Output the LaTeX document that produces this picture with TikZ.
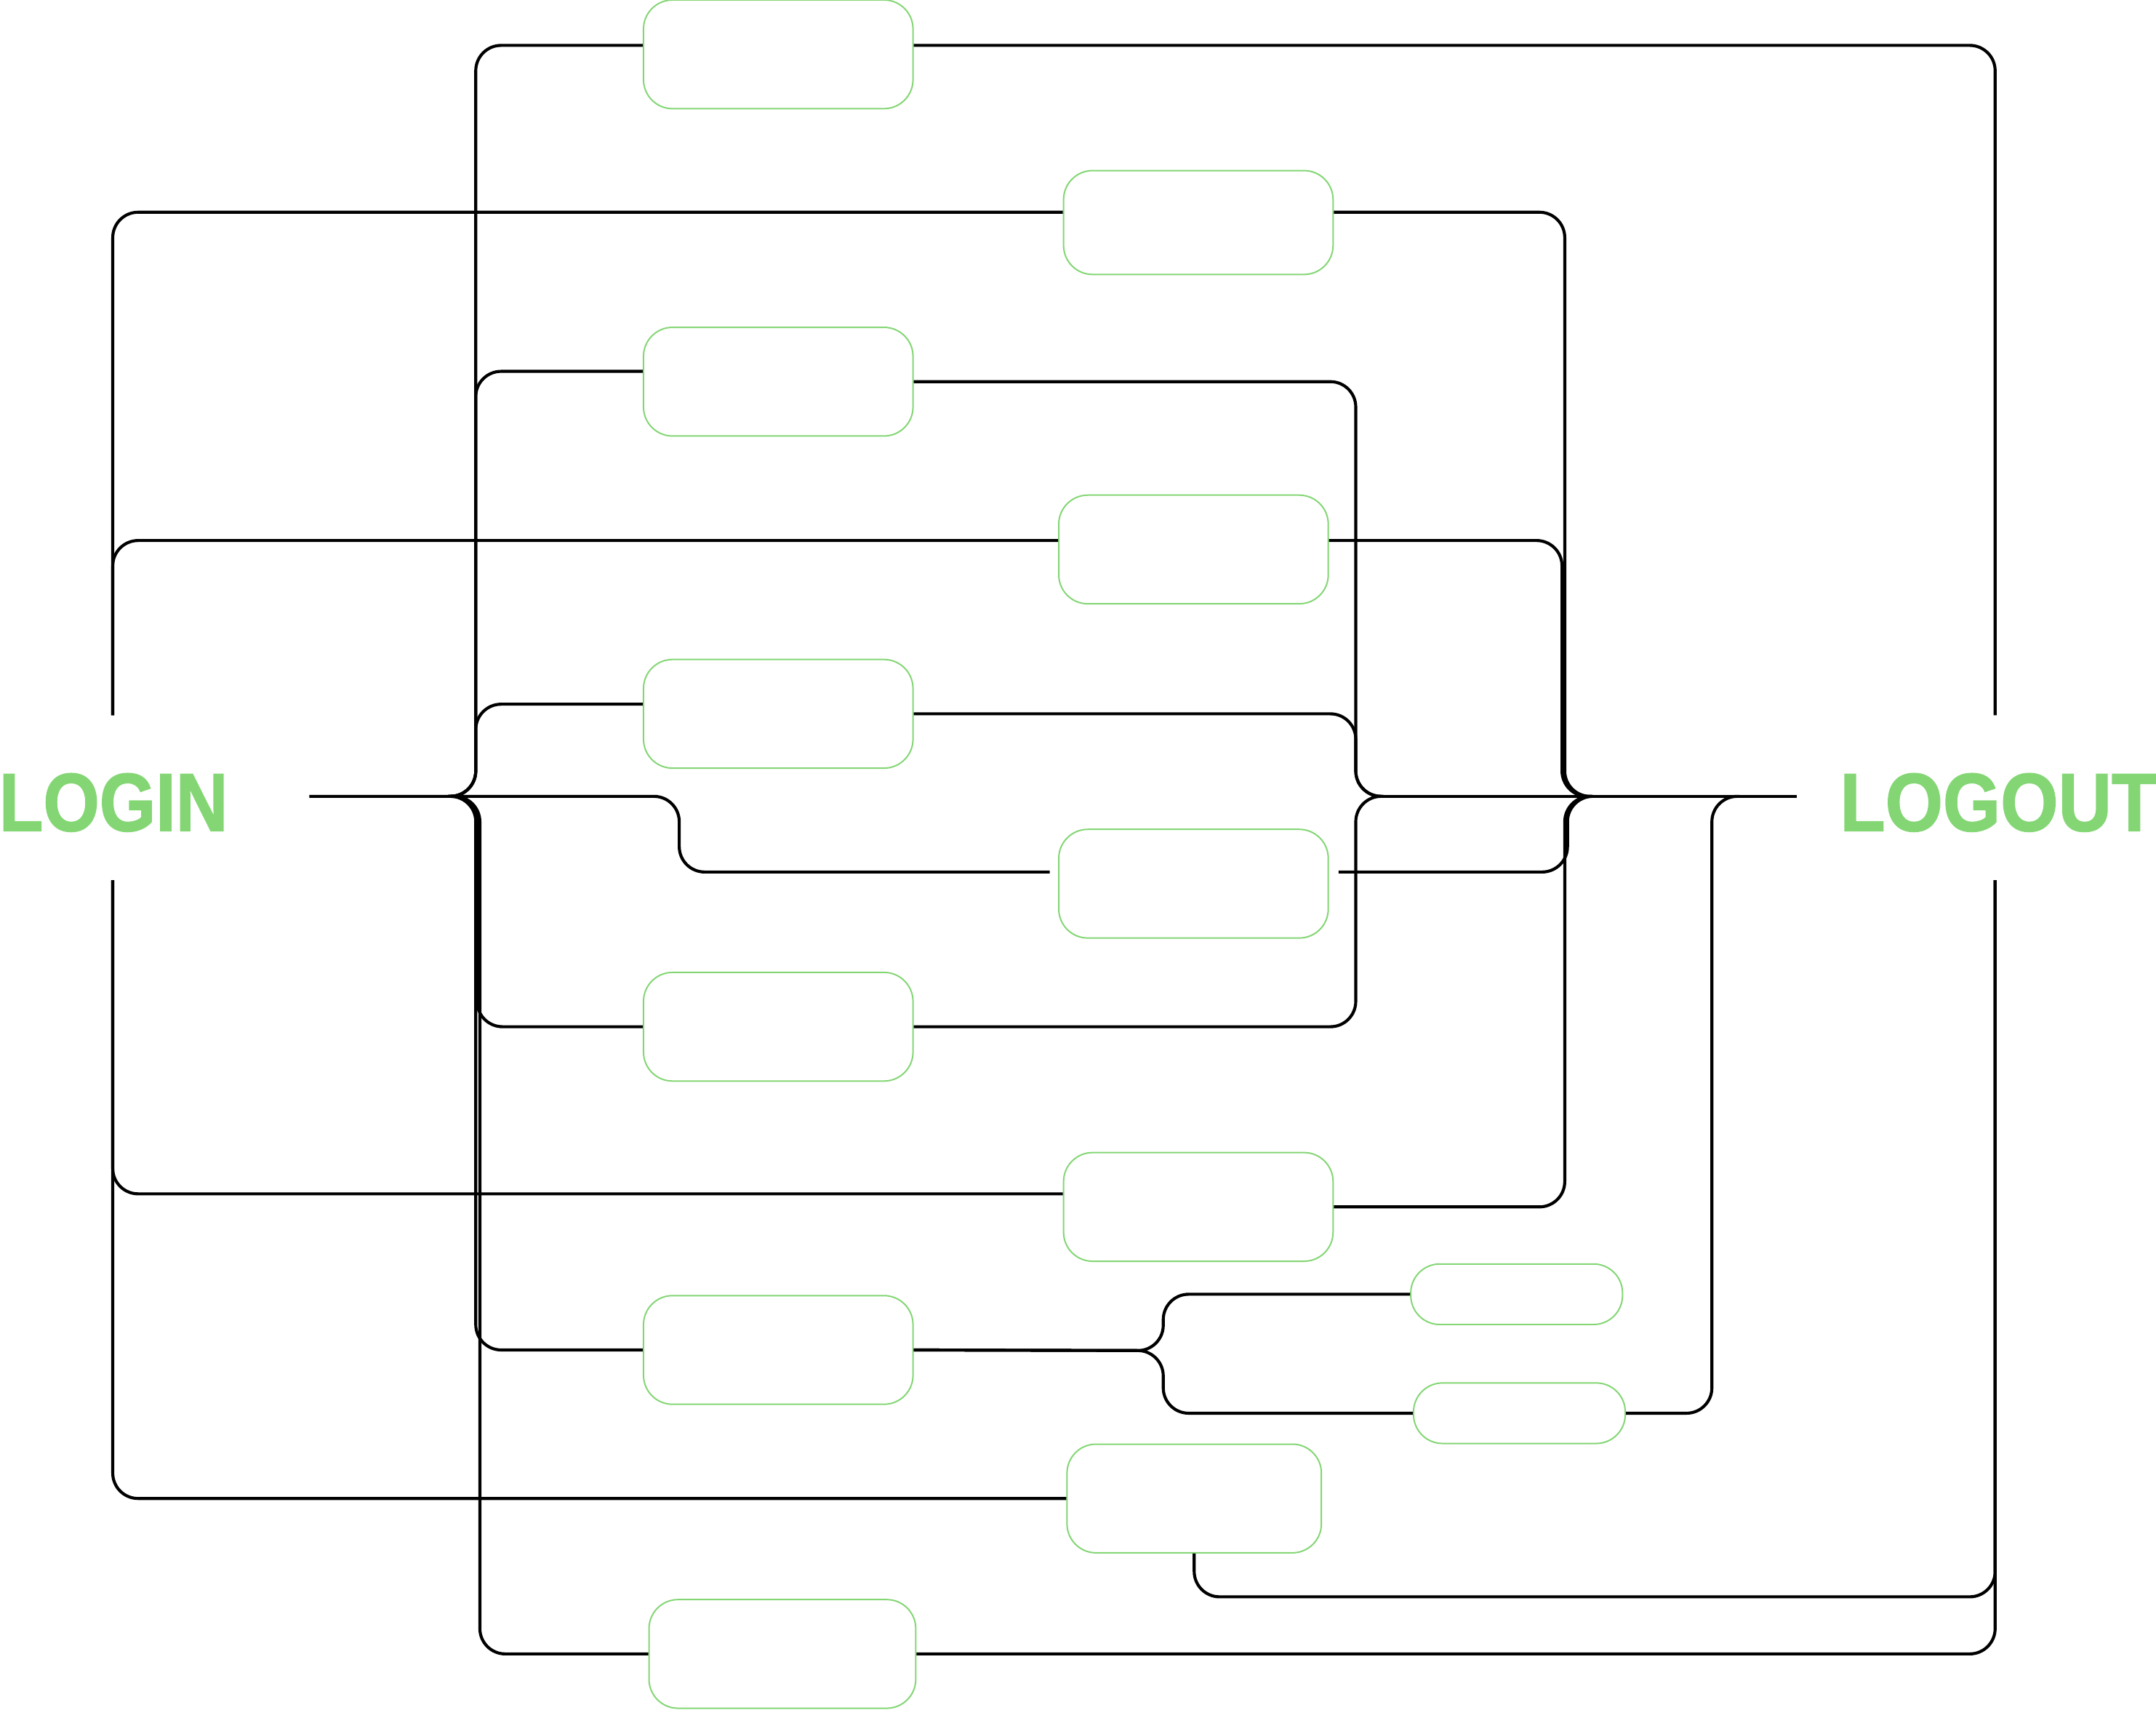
\documentclass[tikz,border=0pt]{standalone}
\usepackage{fontspec}
\setsansfont{Liberation Sans}
\newfontfamily\heavyfont{Liberation Sans Bold}[FakeBold=1.6]
\definecolor{leaf}{RGB}{132,214,117}

\begin{document}
\begin{tikzpicture}[x=0.2mm,y=-0.2mm,
  stage/.style={draw=leaf,line width=0.6pt,rounded corners=12pt,minimum width=39.2mm,minimum height=15.8mm,inner sep=0},
  pill/.style={stage,minimum width=30.8mm,minimum height=8.8mm},
  wire/.style={draw,line width=1.25pt,rounded corners=10.5pt},
  word/.style={text=leaf,font=\heavyfont\fontsize{34}{34}\selectfont,xscale=0.88,inner sep=0}]
\useasboundingbox (0,0) rectangle (1568,1243);
\node[word,anchor=west] (login) at (-1,583.5) {LOGIN};
\node[word,anchor=east,xscale=1.025] (logout) at (1569,583.5) {LOGOUT};
% first column
\node[stage] (a1) at (566,39.5) {};
\node[stage] (a2) at (566,277.5) {};
\node[stage] (a3) at (566,519) {};
\node[stage] (a4) at (566,746.5) {};
\node[stage] (a5) at (566,981.5) {};
\node[stage,minimum width=38.8mm] (a6) at (569,1202.5) {};
% second column
\node[stage,minimum height=15.1mm] (b1) at (871.5,161.8) {};
\node[stage] (b2) at (868,399.5) {};
\node[stage] (b3) at (868,642.5) {};
\node[stage] (b4) at (871.5,877.5) {};
\node[stage,minimum width=37mm] (b5) at (868.5,1089.5) {};
\node[pill] (c1) at (1103,941) {};
\node[pill] (c2) at (1105,1027.5) {};
% junctions and free ends
\coordinate (inL) at (225,579);
\coordinate (outR) at (1307,579);
\coordinate (jL) at (326,579);
\coordinate (jM) at (1006,579);
\coordinate (jR) at (1158,579);
\coordinate (jQ) at (1265,579);
\coordinate (fork) at (846,982);
\coordinate (gapLt) at (82,520);
\coordinate (gapLb) at (82,640);
\coordinate (gapRt) at (1451,520);
\coordinate (gapRb) at (1451,640);
% main line
\draw[wire] (inL) -- (494,579) -- (494,634) -- ([xshift=-1.2mm,yshift=1.7mm]b3.west);
\draw[wire] (jM) -- (outR);
% left inner rail
\draw[wire] ([yshift=1.3mm]a1.west) -| (346,579) -- (jL);
\draw[wire] ([yshift=1.5mm]a2.west) -| (346,579) -- (jL);
\draw[wire] ([yshift=1.4mm]a3.west) -| (346,579) -- (jL);
\draw[wire] (a4.west) -| (347,579) -- (jL);
\draw[wire] (a5.west) -| (346,579) -- (jL);
\draw[wire] (a6.west) -| (349,579) -- (jL);
% left outer rail
\draw[wire] ([yshift=1.5mm]b1.west) -| (gapLt);
\draw[wire] ([yshift=1.3mm]b2.west) -| (gapLt);
\draw[wire] ([yshift=1.9mm]b4.west) -| (gapLb);
\draw[wire] (b5.west) -| (gapLb);
% middle rails
\draw[wire] (a2.east) -| (986,579) -- (jM);
\draw[wire] (a3.east) -| (986,579) -- (jM);
\draw[wire] (a4.east) -| (986,579) -- (jM);
\draw[wire] ([yshift=1.5mm]b1.east) -| (1138,579) -- (jR);
\draw[wire] ([yshift=1.3mm]b2.east) -| (1136,579) -- (jR);
\draw[wire] ([xshift=1.4mm,yshift=1.7mm]b3.east) -| (1140,579) -- (jR);
\draw[wire] (b4.east) -| (1138,579) -- (jR);
% fork to the pills
\draw[wire] (a5.east) -- (fork) |- (c1.west);
\draw[wire] (a5.east) -- (fork) |- (c2.west);
\draw[wire] (c2.east) -| (1245,579) -- (jQ);
% right outer rail
\draw[wire] ([yshift=1.3mm]a1.east) -| (gapRt);
\draw[wire] (a6.east) -| (gapRb);
\draw[wire] (b5.south) |- (1451,1161) -- (gapRb);
\end{tikzpicture}
\end{document}
